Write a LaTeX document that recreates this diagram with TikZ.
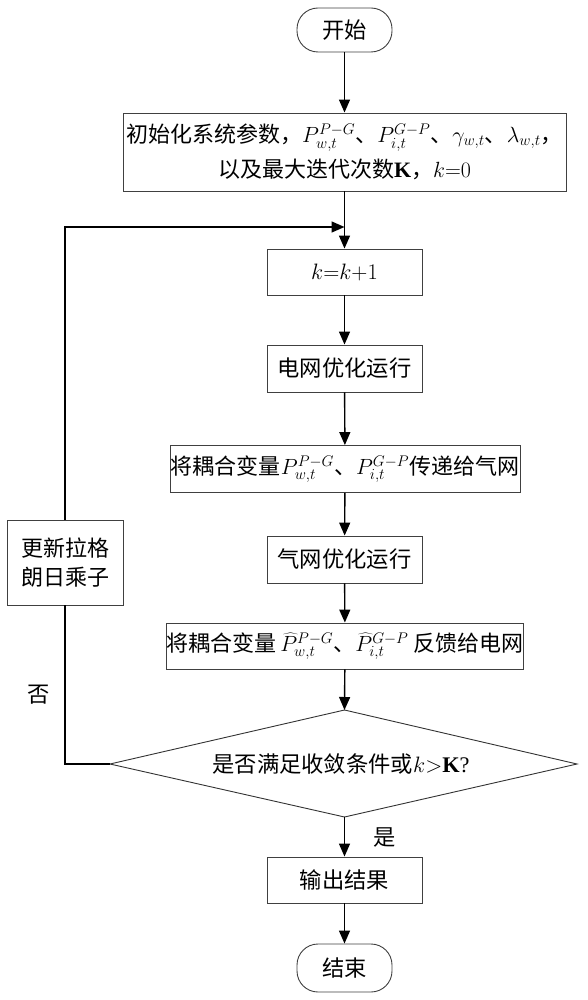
\RequirePackage{fix-cm}
\documentclass[tikz,border=0pt]{standalone}
\usepackage{fontspec}
\setmainfont{Liberation Serif}
\newfontfamily\cjk{Noto Sans CJK SC}
\newfontfamily\tnr{Liberation Serif}
\usetikzlibrary{arrows.meta}
\tikzset{
  box/.style={draw=black!75, line width=0.9pt, fill=white, inner sep=0pt, align=center,
    font=\fontsize{22.3}{26}\selectfont\cjk},
  term/.style={box, rounded corners=21pt},
  arr/.style={line width=1.4pt, -{Triangle[length=13pt,width=11pt]}},
  ln/.style={line width=1.4pt},
  lbl/.style={inner sep=0pt, font=\fontsize{22.3}{26}\selectfont\cjk},
}
\begin{document}
\begin{tikzpicture}[x=1pt,y=-1pt]
\useasboundingbox (0,0) rectangle (587,1000);
\node[term, minimum width=95pt, minimum height=44pt] (start) at (344.5,30) {开始};
\node[box, minimum width=443pt, minimum height=78pt, font=\fontsize{22}{35}\selectfont\cjk] (init) at (344.5,152)
  {初始化系统参数，$P_{w,t}^{P-G}$、$P_{i,t}^{G-P}$、$\gamma_{w,t}$、$\lambda_{w,t}$，\\以及最大迭代次数{\tnr\bfseries K}，$k{=}0$};
\node[box, minimum width=155pt, minimum height=46pt] (kk) at (344.5,272) {$k{=}k{+}1$};
\node[box, minimum width=155pt, minimum height=47pt] (grid) at (344.5,368.5) {电网优化运行};
\node[box, minimum width=350pt, minimum height=47pt, font=\fontsize{22}{26}\selectfont\cjk] (trans) at (345,469) {将耦合变量$P_{w,t}^{P-G}$、$P_{i,t}^{G-P}$传递给气网};
\node[box, minimum width=155pt, minimum height=47pt] (gas) at (344.5,559.5) {气网优化运行};
\node[box, minimum width=346pt, minimum height=46pt, font=\fontsize{22}{26}\selectfont\cjk] (fb) at (345,646) {将耦合变量\,$\widehat{P}_{w,t}^{P-G}$、$\widehat{P}_{i,t}^{G-P}$ 反馈给电网};
\coordinate (dt) at (344.5,710);
\coordinate (db) at (344.5,817);
\coordinate (dl) at (110,764);
\coordinate (dr) at (577,764);
\draw[line width=0.9pt, draw=black!80] (dt) -- (dr) -- (db) -- (dl) -- cycle;
\node[lbl] (dtext) at (341,764) {是否满足收敛条件或$k{>}${\tnr\bfseries K}{\tnr ?}};
\node[box, minimum width=155pt, minimum height=46pt] (out) at (344.5,880) {输出结果};
\node[term, minimum width=95pt, minimum height=48pt] (stop) at (344.5,968) {结束};
\node[box, minimum width=116pt, minimum height=85pt, font=\fontsize{22}{29}\selectfont\cjk] (upd) at (65,562.5) {更新拉格\\朗日乘子};
\coordinate (join) at (344.5,227);
\node[lbl] (no) at (39,695) {否};
\node[lbl] (yes) at (385,837) {是};
% connectors
\draw[arr] (start) -- (init);
\draw[arr] (init) -- (kk);
\draw[arr] (kk) -- (grid);
\draw[arr] (grid) -- (trans);
\draw[arr] (trans) -- (gas);
\draw[arr] (gas) -- (fb);
\draw[arr] (fb) -- (dt);
\draw[arr] (db) -- (out);
\draw[arr] (out) -- (stop);
\draw[ln] (dl) -- (dl -| upd) -- (upd.south);
\draw[arr] (upd.north) -- (upd.north |- join) -- (join);
\end{tikzpicture}
\end{document}
